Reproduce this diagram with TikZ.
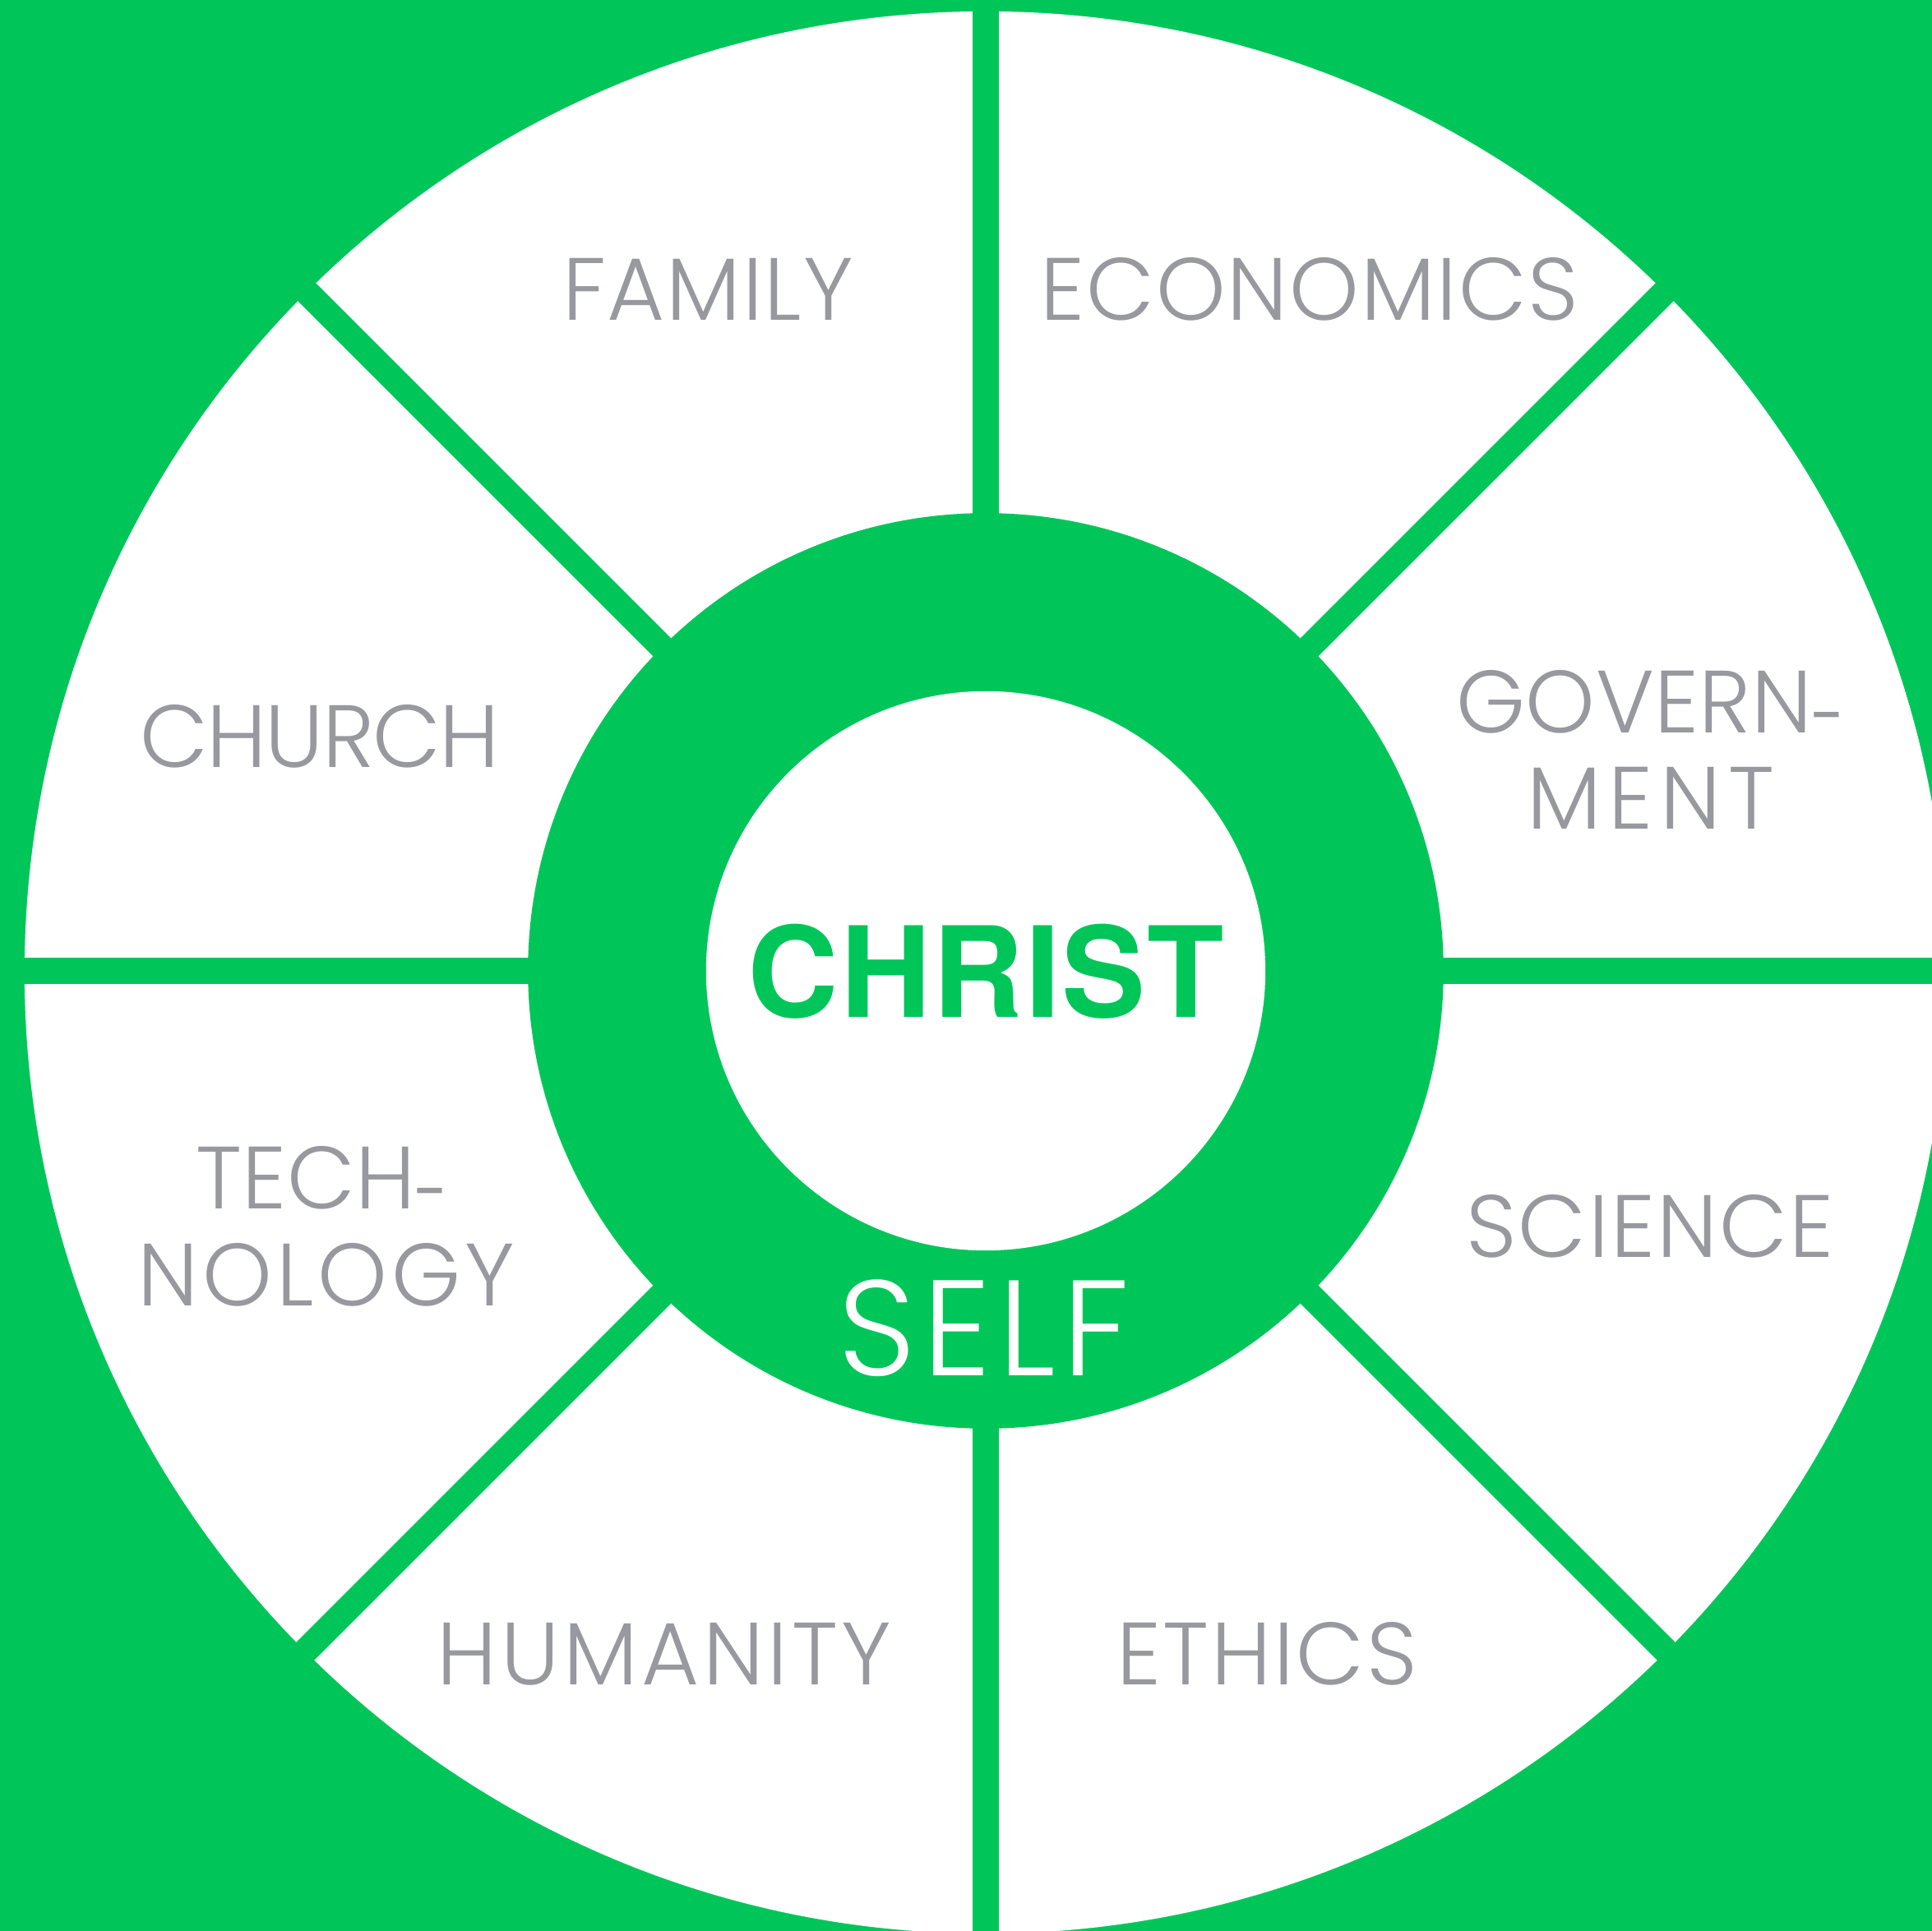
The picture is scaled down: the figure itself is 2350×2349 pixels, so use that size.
\documentclass[tikz,border=0pt]{standalone}
\usepackage{fontspec}
\usepackage{graphicx}
\newfontfamily\lblfont{Poppins Light}
\newfontfamily\hvfont{TeX Gyre Heros}
\definecolor{brandgreen}{RGB}{0,198,90}
\definecolor{lblgray}{RGB}{152,153,158}
\newcommand{\lowhyph}{\raisebox{-0.16em}{\scalebox{0.72}[1]{-}}}
\begin{document}
\begin{tikzpicture}[x=0.01cm,y=-0.01cm,
  lbl/.style={font=\lblfont\fontsize{30.6}{34}\selectfont\addfontfeature{LetterSpace=#1}, text=lblgray, inner sep=0pt, anchor=base},
  lbl/.default=0,
  divider/.style={draw=brandgreen, line width=0.31cm}]
\useasboundingbox (0,0) rectangle (2350,2349);
\clip (0,0) rectangle (2350,2349);
\fill[brandgreen] (0,0) rectangle (2350,2349);
\fill[white] (1199,1183) circle[radius=11.685cm];
\coordinate (c) at (1199,1181);
\draw[divider] (1199,-20) -- (1199,2370);
\draw[divider] (-20,1181) -- (2370,1181);
\draw[divider] (-201,-219) -- (2599,2581);
\draw[divider] (2599,-219) -- (-201,2581);
\fill[brandgreen] (c) circle[radius=5.565cm];
\fill[white] (c) circle[radius=3.40cm];
\node[font=\hvfont\bfseries\fontsize{43.5}{48}\selectfont\addfontfeature{LetterSpace=1.3}, text=brandgreen, anchor=base, inner sep=0pt] (christ) at (1199,1238) {CHRIST};
\node[font=\lblfont\fontsize{47}{52}\selectfont\addfontfeature{LetterSpace=5.2}, text=white, anchor=base, inner sep=0pt] (self) at (1197,1673) {SELF};
\node[lbl=1.7] (family) at (861,390) {FAMILY};
\node[lbl=1.7] (economics) at (1593,390) {ECONOMICS};
\node[lbl=-1.6] (church) at (389,934) {CHURCH};
\node[lbl=0.3] (gov1) at (2008,892) {GOVERN\lowhyph};
\node[lbl=8.2] (gov2) at (2008,1009) {MENT};
\node[lbl=0.5] (tech1) at (392,1471) {TECH\lowhyph};
\node[lbl=4.7] (tech2) at (397,1588) {NOLOGY};
\node[lbl=2.1] (science) at (2007,1529) {SCIENCE};
\node[lbl=4.4] (humanity) at (808,2049) {HUMANITY};
\node[lbl=2.5] (ethics) at (1541,2049) {ETHICS};
\end{tikzpicture}
\end{document}
